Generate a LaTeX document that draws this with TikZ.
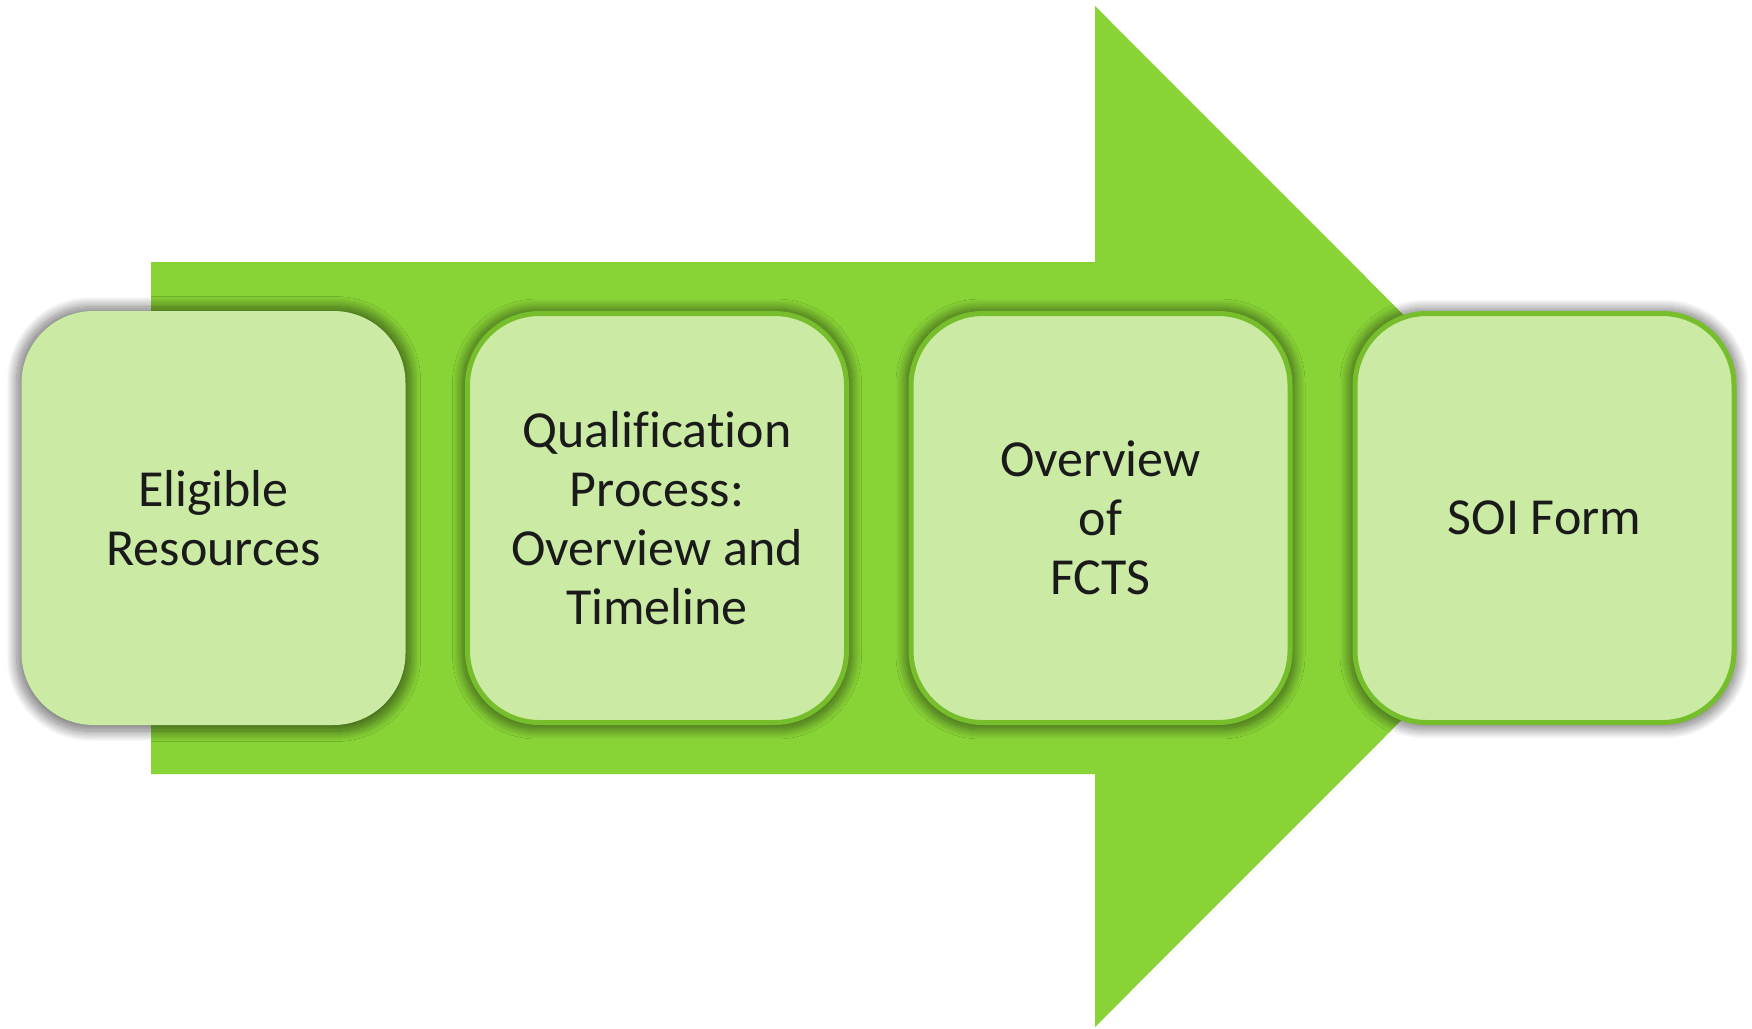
\documentclass[tikz,border=0pt]{standalone}
\usepackage{fontspec}
\setmainfont[RawFeature={-liga}]{Carlito}
\usetikzlibrary{shadows.blur}
\definecolor{arrowgreen}{HTML}{88D336}
\definecolor{boxfill}{HTML}{CBEBA5}
\definecolor{boxborder}{HTML}{76BE2C}
\definecolor{txt}{HTML}{1A1A1A}
\tikzset{
  stepbox/.style={rectangle, rounded corners=72pt, fill=boxfill,
    minimum width=379pt, minimum height=409pt, draw=boxborder, line width=5pt,
    text=txt, align=center, font=\fontsize{52}{59}\selectfont, inner sep=0pt,
    blur shadow={shadow xshift=0pt, shadow yshift=-1pt, shadow opacity=55,
      shadow blur radius=10pt, shadow blur steps=30, shadow scale=1.025}},
  plainbox/.style={stepbox, draw=none, minimum width=384pt, minimum height=414pt}
}
\begin{document}
\begin{tikzpicture}[x=1pt,y=-1pt]
\useasboundingbox (0,0) rectangle (1752,1028);
\fill[arrowgreen] (151,262) -- (1095,262) -- (1095,6) -- (1605,516.5)
  -- (1095,1027) -- (1095,774) -- (151,774) -- cycle;
\node[plainbox] (b1) at (213.5,518) {Eligible\\Resources};
\node[stepbox] (b2) at (657,518) {Qualif\kern0pt ication\\Process:\\Overview and\\Timeline};
\node[stepbox] (b3) at (1100.5,518) {Overview\\of\\FCTS};
\node[stepbox] (b4) at (1544.5,518) {SOI Form};
\end{tikzpicture}
\end{document}
